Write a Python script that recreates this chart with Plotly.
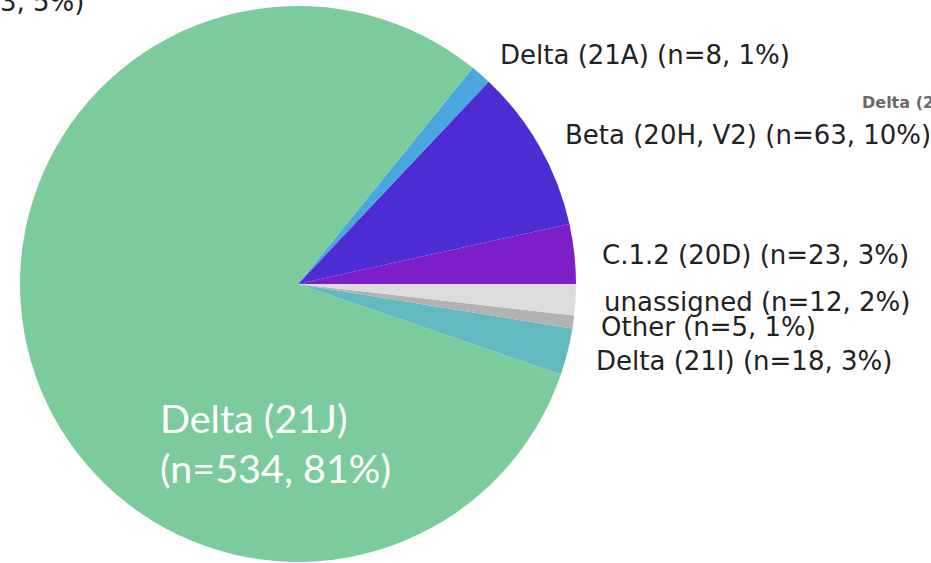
import plotly.graph_objects as go

# Data (counterclockwise from 3 o'clock)
labels = ["C.1.2 (20D)", "Beta (20H, V2)", "Delta (21A)", "Delta (21J)",
          "Delta (21I)", "Other", "unassigned"]
counts = [23, 63, 8, 534, 18, 5, 12]
percents = [3, 10, 1, 81, 3, 1, 2]
colors = ["#7d1fc9", "#4e2cd4", "#4aa6de", "#7bcb9d",
          "#62bac0", "#b2b2b2", "#dcdcdc"]

W, H = 931, 563
MT, MB = 6, 1
PH = H - MT - MB
cx = 298
r = PH / 2

def px(x):
    return x / W

def py(y):
    return (H - MB - y) / PH

first_angle = 360.0 * counts[0] / sum(counts)

fig = go.Figure(go.Pie(
    labels=labels,
    values=counts,
    sort=False,
    direction="counterclockwise",
    rotation=90 - first_angle,
    marker=dict(colors=colors, line=dict(width=0)),
    textinfo="none",
    hoverinfo="label+value+percent",
    showlegend=False,
    domain=dict(x=[(cx - r) / W, (cx + r) / W], y=[0, 1]),
))

lab_font = dict(family="DejaVu Sans", size=26, color="#222222")

# outside labels: (label index, left x px, center y px)
outside = {
    2: (498, 55),
    1: (563, 135),
    0: (600, 255),
    6: (602, 302),
    5: (599, 327),
    4: (594, 361),
}
annotations = []
for i, (x, y) in outside.items():
    annotations.append(dict(
        x=px(x), y=py(y), xref="paper", yref="paper",
        xanchor="left", yanchor="middle", showarrow=False,
        text=f"{labels[i]} (n={counts[i]}, {percents[i]}%)",
        font=lab_font,
    ))

# big inside label for Delta (21J)
big = dict(family="Lato", size=39.5, color="white")
annotations.append(dict(x=px(158), y=py(417), xref="paper", yref="paper",
                        xanchor="left", yanchor="middle", showarrow=False,
                        text=labels[3], font=big))
annotations.append(dict(x=px(158), y=py(468), xref="paper", yref="paper",
                        xanchor="left", yanchor="middle", showarrow=False,
                        text=f"(n={counts[3]}, {percents[3]}%)", font=big))

# cut-off fragments from neighbouring charts
annotations.append(dict(x=px(86), y=py(2), xref="paper", yref="paper",
                        xanchor="right", yanchor="middle", showarrow=False,
                        text="(n=33, 5%)", font=dict(family="DejaVu Sans", size=26, color="#222222")))
annotations.append(dict(x=px(860), y=py(102), xref="paper", yref="paper",
                        xanchor="left", yanchor="middle", showarrow=False,
                        text="<b>Delta (21J)</b>",
                        font=dict(family="DejaVu Sans", size=16, color="#6a6a6a")))

fig.update_layout(
    width=W, height=H,
    margin=dict(l=0, r=0, t=MT, b=MB),
    paper_bgcolor="white",
    plot_bgcolor="white",
    annotations=annotations,
)

fig.write_html("out.html", config={"displayModeBar": False},
               post_script="document.body.style.margin='0px';")
